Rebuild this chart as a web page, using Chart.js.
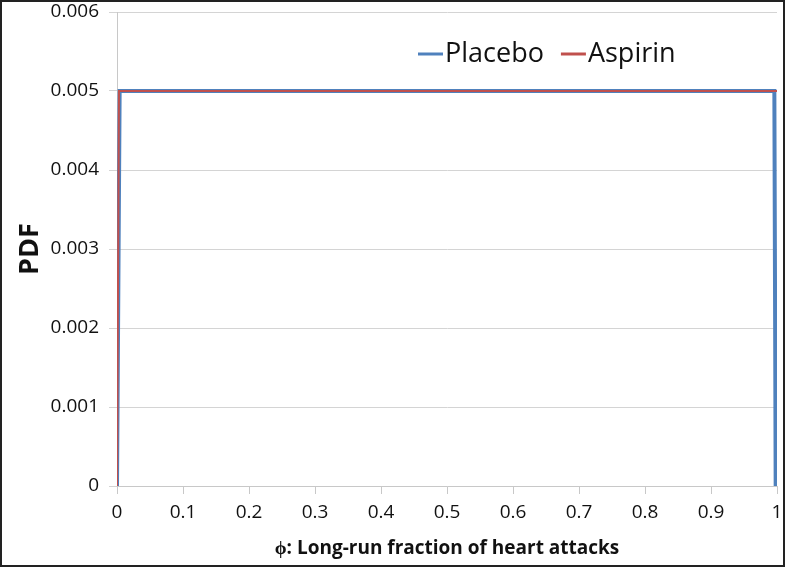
<!DOCTYPE html>
<html lang="en">
<head>
    <meta charset="UTF-8">
    <title>PDF - Placebo vs Aspirin</title>
    <script src="https://cdn.jsdelivr.net/npm/chart.js"></script>
    <style>
        body {
            margin: 0;
            background-color: #fff;
        }
        #wrap {
            width: 785px;
            height: 567px;
        }
    </style>
</head>
<body>
    <div id="wrap">
        <canvas id="pdfChart" width="785" height="567"></canvas>
    </div>

    <script>
        // series values
        const placeboX = [0, 0.001, 0.004, 0.996, 0.998];
        const placeboY = [0, 0, 0.005, 0.005, 0];
        const aspirinX = [0, 0.003, 1];
        const aspirinY = [0, 0.005, 0.005];

        const xTickLabels = ['0', '0.1', '0.2', '0.3', '0.4', '0.5', '0.6', '0.7', '0.8', '0.9', '1'];
        const yTickLabels = ['0', '0.001', '0.002', '0.003', '0.004', '0.005', '0.006'];

        const toPoints = (xs, ys) => xs.map((x, i) => ({ x: x, y: ys[i] }));

        // legend drawn inside the plot, top right
        const innerLegend = {
            id: 'innerLegend',
            afterDraw(chart) {
                const ctx = chart.ctx;
                ctx.save();
                ctx.font = '27px "Open Sans", sans-serif';
                ctx.textBaseline = 'middle';
                let x = 418;
                const y = 54;
                chart.data.datasets.forEach(ds => {
                    ctx.strokeStyle = ds.borderColor;
                    ctx.lineWidth = 3;
                    ctx.beginPath();
                    ctx.moveTo(x, y);
                    ctx.lineTo(x + 25, y);
                    ctx.stroke();
                    x += 27;
                    ctx.fillStyle = '#111';
                    ctx.fillText(ds.label, x, y);
                    x += ctx.measureText(ds.label).width + 17;
                });
                ctx.restore();
            }
        };

        // white page and dark frame round it
        const frame = {
            id: 'frame',
            beforeDraw(chart) {
                const ctx = chart.ctx;
                ctx.save();
                ctx.fillStyle = '#fff';
                ctx.fillRect(0, 0, chart.width, chart.height);
                ctx.restore();
            },
            afterDraw(chart) {
                const ctx = chart.ctx;
                ctx.save();
                ctx.strokeStyle = '#222';
                ctx.lineWidth = 2;
                ctx.strokeRect(1, 1, chart.width - 2, chart.height - 2);
                ctx.restore();
            }
        };

        const ctx = document.getElementById('pdfChart').getContext('2d');

        new Chart(ctx, {
            type: 'scatter',
            data: {
                datasets: [{
                    label: 'Placebo',
                    data: toPoints(placeboX, placeboY),
                    borderColor: '#4f81bd',
                    borderWidth: 4,
                    showLine: true,
                    pointRadius: 0,
                    tension: 0,
                    order: 2
                }, {
                    label: 'Aspirin',
                    data: toPoints(aspirinX, aspirinY),
                    borderColor: '#c0504d',
                    borderWidth: 2,
                    showLine: true,
                    pointRadius: 0,
                    tension: 0,
                    order: 1
                }]
            },
            options: {
                responsive: false,
                animation: false,
                layout: {
                    padding: { left: 0, right: 8, top: 12, bottom: 0 }
                },
                plugins: {
                    legend: { display: false },
                    tooltip: { enabled: false }
                },
                scales: {
                    x: {
                        type: 'linear',
                        min: 0,
                        max: 1,
                        afterFit: scale => {
                            scale.height = 81;
                            scale.paddingLeft = 0;
                            scale.paddingRight = 0;
                        },
                        afterBuildTicks: scale => {
                            scale.ticks = xTickLabels.map(t => ({ value: parseFloat(t) }));
                        },
                        ticks: {
                            callback: (v, i) => xTickLabels[i],
                            color: '#111',
                            font: { family: 'Open Sans', size: 19 },
                            padding: 7,
                            maxRotation: 0,
                            autoSkip: false
                        },
                        grid: {
                            drawOnChartArea: false,
                            drawTicks: true,
                            tickLength: 8,
                            color: '#c8c8c8'
                        },
                        border: { color: '#c8c8c8' },
                        title: {
                            display: true,
                            text: 'ϕ: Long-run fraction of heart attacks',
                            color: '#111',
                            font: { family: 'Open Sans', size: 19, weight: 'bold' },
                            padding: { top: 0, bottom: 7 }
                        }
                    },
                    y: {
                        min: 0,
                        max: 0.006,
                        afterFit: scale => {
                            scale.width = 117;
                            scale.paddingTop = 0;
                            scale.paddingBottom = 0;
                        },
                        afterBuildTicks: scale => {
                            scale.ticks = yTickLabels.map(t => ({ value: parseFloat(t) }));
                        },
                        ticks: {
                            callback: (v, i) => yTickLabels[i],
                            color: '#111',
                            font: { family: 'Open Sans', size: 19 },
                            padding: 10
                        },
                        grid: {
                            color: '#d4d4d4',
                            tickLength: 8
                        },
                        border: { color: '#c8c8c8' },
                        title: {
                            display: true,
                            text: 'PDF',
                            color: '#111',
                            font: { family: 'Open Sans', size: 27, weight: 'bold' },
                            padding: { top: 14, bottom: 0 }
                        }
                    }
                }
            },
            plugins: [frame, innerLegend]
        });
    </script>
</body>
</html>
